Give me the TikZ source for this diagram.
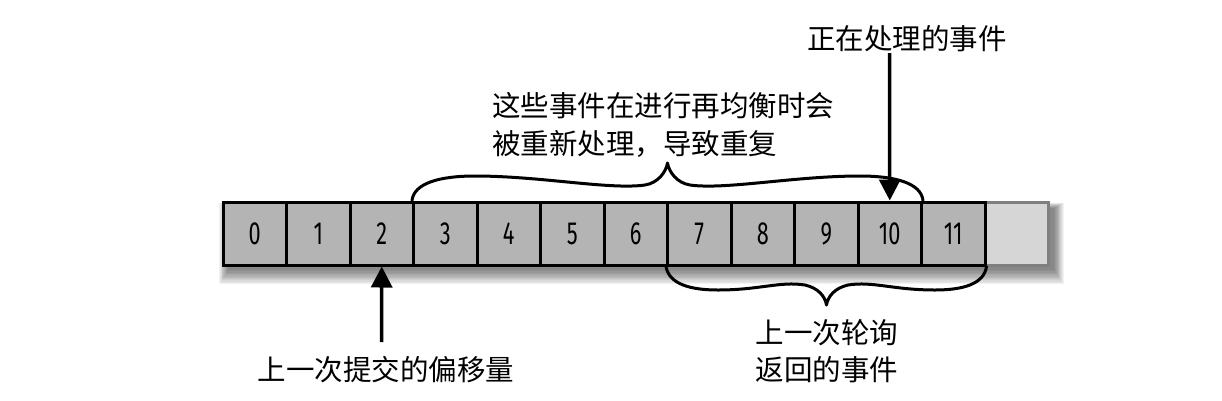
\documentclass[tikz,border=0pt]{standalone}
\usepackage{fontspec}
\newfontfamily\cjk{Noto Sans CJK SC}
\newfontfamily\dig[FakeStretch=0.68]{Fira Sans}
\usetikzlibrary{arrows.meta,calc}
\definecolor{cellgray}{HTML}{B4B4B4}
\definecolor{lightcell}{HTML}{D6D6D6}
\definecolor{lightborder}{HTML}{7F7F7F}
\tikzset{
  cell/.style={draw=black, line width=3pt, fill=cellgray, minimum width=63.5pt,
    minimum height=63pt, inner sep=0pt, font=\dig\fontsize{32}{34}\selectfont},
  emptycell/.style={cell, draw=lightborder, fill=lightcell},
  lbl/.style={font=\cjk\fontsize{28.5}{37.5}\selectfont, inner sep=0pt},
  brace/.style={line width=3pt, line cap=round, line join=round},
  arr/.style={line width=3.5pt, -{Triangle[width=21pt,length=21pt]}}
}
\begin{document}
\begin{tikzpicture}[x=1pt,y=-1pt]
\useasboundingbox (0,0) rectangle (1222,400);
% soft shadow
\foreach \i in {0,...,11} {
  \fill[black, opacity=0.05] ({228-\i*0.8},{208-\i*0.5}) rectangle ({1054+\i*0.9},{270+\i*1.3});
}
% cells
\node[emptycell] (c12) at ({223+63.5*12+31.75},233.5) {};
\foreach \i in {0,...,11} {
  \node[cell] (c\i) at ({223+63.5*\i+31.75},233.5) {\i};
}
% labels
\node[lbl] (proc) at (907,39) {正在处理的事件};
\node[lbl, align=left, anchor=west] (dup) at (492,125) {这些事件在进行再均衡时会\\被重新处理，导致重复};
\node[lbl, align=center] (poll) at (827,351) {上一次轮询\\返回的事件};
\node[lbl] (off) at (386,370) {上一次提交的偏移量};
% top brace
\draw[brace] (c3.north west)
  .. controls (414,183) and (440,176) .. (475,176)
  .. controls (540,176) and (610,190) .. (645,185)
  .. controls (658,183) and (666,172) .. (667.5,163)
  .. controls (669,172) and (677,183) .. (690,185)
  .. controls (725,190) and (795,176) .. (860,176)
  .. controls (895,176) and (921,183) .. (c10.north east);
% bottom brace
\draw[brace] (c7.south west)
  .. controls (669,284) and (690,290) .. (718,290)
  .. controls (760,290) and (780,281) .. (805,285)
  .. controls (818,288) and (825,296) .. (826.5,305)
  .. controls (828,296) and (835,288) .. (848,285)
  .. controls (873,281) and (893,290) .. (935,290)
  .. controls (963,290) and (984,284) .. (c11.south east);
% arrows
\coordinate (proctail) at (889.5,53);
\draw[arr] (proctail) -- (c10.north);
\coordinate (offtail) at (381.5,342);
\draw[arr] (offtail) -- (c2.south);
\end{tikzpicture}
\end{document}
